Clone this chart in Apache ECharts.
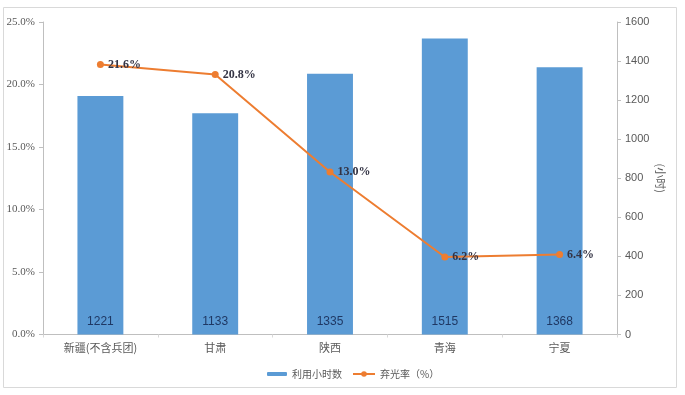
<!DOCTYPE html>
<html><head><meta charset="utf-8">
<script src="https://cdn.jsdelivr.net/npm/echarts@6/dist/echarts.min.js"></script>
<style>html,body{margin:0;padding:0;background:#fff}#c{width:685px;height:395px}</style>
</head><body><div id="c"></div>
<script>
var categories = ['新疆(不含兵团)', '甘肃', '陕西', '青海', '宁夏'];
var hours = [1221, 1133, 1335, 1515, 1368];
var curtailRate = [21.6, 20.8, 13.0, 6.2, 6.4];
var barName = '利用小时数';
var lineName = '弃光率（%）';

var chart = echarts.init(document.getElementById('c'));
chart.setOption({
  animation: false,
  graphic: [{type:'rect', shape:{x:3.5,y:7.5,width:673,height:380}, style:{fill:'none', stroke:'#d9d9d9', lineWidth:1}, silent:true}],
  grid: {left:43, right:68, top:22, bottom:60.5},
  legend: [
    {data:[barName], left:262, top:364, itemWidth:20, itemHeight:4, itemGap:8,
     textStyle:{color:'#595959', fontSize:10, fontFamily:'Noto Sans CJK SC'}},
    {data:[lineName], left:347, top:364, itemWidth:22, itemHeight:7,
     textStyle:{color:'#595959', fontSize:10, fontFamily:'Noto Sans CJK SC'}}
  ],
  xAxis: {type:'category', data:categories,
    axisLine:{lineStyle:{color:'#bfbfbf'}}, axisTick:{show:true, length:3, lineStyle:{color:'#d9d9d9'}},
    axisLabel:{color:'#595959', fontSize:11, margin:8, fontFamily:'Noto Sans CJK SC'}},
  yAxis: [
    {type:'value', min:0, max:25, interval:5, position:'left',
     axisLine:{show:true, lineStyle:{color:'#bfbfbf'}}, axisTick:{show:true, length:4, lineStyle:{color:'#bfbfbf'}},
     splitLine:{show:false},
     axisLabel:{formatter:function(v){return v.toFixed(1)+'%';}, color:'#595959', fontSize:11, fontFamily:'Liberation Serif', margin:8}},
    {type:'value', min:0, max:1600, interval:200, position:'right',
     name:'(小时)', nameLocation:'middle', nameRotate:-90, nameGap:38, nameMoveOverlap:false,
     nameTextStyle:{color:'#595959', fontSize:11, fontFamily:'Noto Sans CJK SC'},
     axisLine:{show:true, lineStyle:{color:'#bfbfbf'}}, axisTick:{show:true, length:4, lineStyle:{color:'#bfbfbf'}},
     splitLine:{show:false},
     axisLabel:{formatter:function(v){return String(v);}, color:'#595959', fontSize:11, margin:8, fontFamily:'Liberation Sans'}}
  ],
  series: [
    {name:barName, type:'bar', yAxisIndex:1, data:hours, barWidth:'40%',
     itemStyle:{color:'#5B9BD5'},
     label:{show:true, position:'insideBottom', distance:7, color:'#1F3864', fontSize:12, fontFamily:'Liberation Sans'}},
    {name:lineName, type:'line', yAxisIndex:0, data:curtailRate,
     symbol:'circle', symbolSize:7,
     lineStyle:{color:'#ED7D31', width:2}, itemStyle:{color:'#ED7D31'},
     label:{show:true, position:'right', distance:4, formatter:function(p){return p.value.toFixed(1)+'%';},
       color:'#333344', fontSize:12, fontWeight:'bold', fontFamily:'Liberation Serif'}}
  ]
});
</script></body></html>
